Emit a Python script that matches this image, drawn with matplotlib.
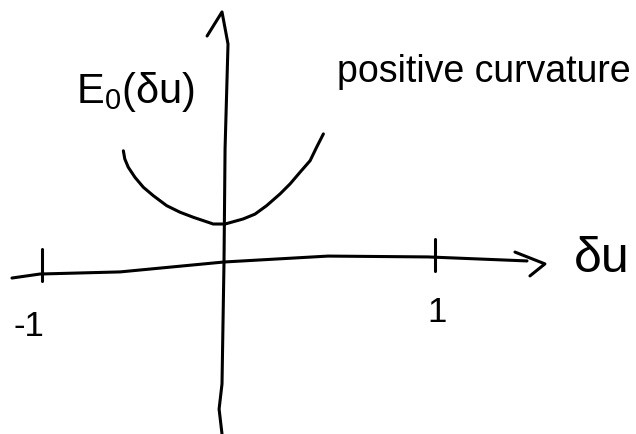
import numpy as np
import matplotlib
matplotlib.use('Agg')
import matplotlib.pyplot as plt

# energy curve E0(du)
du = [-0.553, -0.545, -0.526, -0.489, -0.443, -0.388, -0.315, -0.242, -0.169,
      -0.114, -0.059, 0.005, 0.091, 0.147, 0.202, 0.265, 0.313, 0.360, 0.408,
      0.439, 0.471]
e0 = [0.527, 0.488, 0.449, 0.401, 0.354, 0.314, 0.267, 0.236, 0.212,
      0.196, 0.180, 0.180, 0.204, 0.227, 0.267, 0.322, 0.370, 0.425, 0.480,
      0.544, 0.607]

# hand drawn axes
h_axis_x = [-1.165, -1.011, -0.571, 0.0, 0.493, 0.967, 1.436]
h_axis_y = [-0.076, -0.057, -0.047, 0.0, 0.028, 0.024, 0.005]
h_head_x = [1.379, 1.521, 1.450]
h_head_y = [0.047, -0.009, -0.066]
v_axis_x = [-0.011, -0.027, -0.011, 0.0, 0.005, 0.019, -0.011, -0.093]
v_axis_y = [-0.815, -0.697, -0.578, 0.0, 0.536, 1.033, 1.185, 1.071]

tick_pos = [-1, 1]
tick_labels = ['-1', '1']

# left half of the sketch is drawn a little shorter than the right one
k = 182 / 211


def fwd(x):
    x = np.asarray(x, dtype=float)
    return np.where(x < 0, x * k, x)


def inv(x):
    x = np.asarray(x, dtype=float)
    return np.where(x < 0, x / k, x)


plt.rcParams['font.family'] = ['Liberation Sans', 'DejaVu Sans']
plt.rcParams['mathtext.fontset'] = 'custom'
plt.rcParams['mathtext.rm'] = 'Liberation Sans'
plt.rcParams['mathtext.it'] = 'Liberation Sans'

fig = plt.figure(figsize=(6.36, 4.35), dpi=100)
ax = fig.add_axes([0, 0, 1, 1])
ax.set_xscale('function', functions=(fwd, inv))
ax.set_xlim(-1.2308, 1.9526)
ax.set_ylim(-0.8152, 1.2464)
ax.axis('off')

ink = dict(color='black', lw=2.2, solid_capstyle='round', solid_joinstyle='round')
ax.plot(h_axis_x, h_axis_y, **ink)
ax.plot(h_head_x, h_head_y, **ink)
ax.plot(v_axis_x, v_axis_y, **ink)
ax.plot(du, e0, **ink)

# tick marks and their labels
tick_top = [0.062, 0.109]
label_at = [(-1.07, -0.299), (1.01, -0.237)]
for x, y0, lab, (lx, ly) in zip(tick_pos, tick_top, tick_labels, label_at):
    ax.plot([x, x], [y0, y0 - 0.152], **ink)
    ax.text(lx, ly, lab, fontsize=25, ha='center', va='center')

ax.text(1.791, 0.02, 'δu', fontsize=36, ha='center', va='center')
ax.text(-0.489, 0.81, r'E$_{0}$(δu)', fontsize=30, ha='center', va='center')
ax.text(1.232, 0.905, 'positive curvature', fontsize=27,
        ha='center', va='center')

fig.savefig('out.png', dpi=100)
